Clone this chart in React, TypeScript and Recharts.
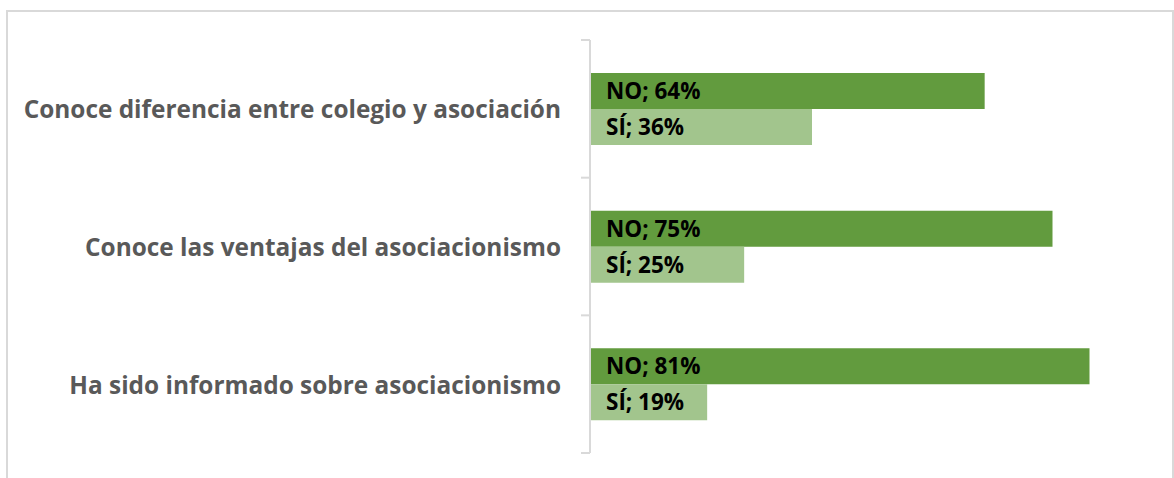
import { Bar, BarChart, LabelList, XAxis, YAxis } from "recharts";

const categories = [
  "Conoce diferencia entre colegio y asociación",
  "Conoce las ventajas del asociacionismo",
  "Ha sido informado sobre asociacionismo",
];
const noValues = [64, 75, 81];
const siValues = [36, 25, 19];

const data = categories.map((name, i) => ({ name, no: noValues[i], si: siValues[i] }));

const AXIS_GREY = "#d9d9d9";
const FONT = "'Open Sans', Lato, sans-serif";

function CategoryTick(props: any) {
  const { x, y, payload, index, visibleTicksCount } = props;
  const half = payload?.offset ?? 0;
  const lineX1 = x + 20;
  const lineX2 = x + 29;
  return (
    <g>
      <text
        x={x}
        y={y}
        textAnchor="end"
        dominantBaseline="central"
        fill="#595959"
        fontFamily={FONT}
        fontWeight={700}
        fontSize={24.4}
      >
        {payload.value}
      </text>
      <line x1={lineX1} x2={lineX2} y1={y - half} y2={y - half} stroke={AXIS_GREY} strokeWidth={2} />
      {index === visibleTicksCount - 1 && (
        <line x1={lineX1} x2={lineX2} y1={y + half} y2={y + half} stroke={AXIS_GREY} strokeWidth={2} />
      )}
    </g>
  );
}

const labelStyle = {
  fill: "#000",
  fontFamily: FONT,
  fontWeight: 700,
  fontSize: 22.5,
};

export default function App() {
  return (
    <div style={{ position: "relative", width: 1174, height: 478, overflow: "hidden" }}>
      <style>{"body{margin:0;overflow:hidden}"}</style>
      <div
        style={{
          position: "absolute",
          left: 6,
          top: 10,
          width: 1168,
          height: 520,
          boxSizing: "border-box",
          border: `2px solid ${AXIS_GREY}`,
        }}
      />
      <div style={{ position: "absolute", left: 8, top: 8 }}>
        <BarChart
          width={1166}
          height={470}
          data={data}
          layout="vertical"
          margin={{ top: 32, right: 29, bottom: 25, left: 0 }}
          barCategoryGap="24%"
          barGap={0}
        >
          <XAxis type="number" domain={[0, 90]} hide />
          <YAxis
            type="category"
            dataKey="name"
            width={582}
            axisLine={{ stroke: AXIS_GREY, strokeWidth: 2 }}
            tickLine={false}
            tickSize={0}
            tickMargin={29}
            tick={<CategoryTick />}
            interval={0}
          />
          <Bar dataKey="no" fill="#629b3e" isAnimationActive={false}>
            <LabelList
              dataKey="no"
              position="insideLeft"
              offset={16}
              formatter={(v: any) => `NO; ${v}%`}
              {...labelStyle}
            />
          </Bar>
          <Bar dataKey="si" fill="#a2c58d" isAnimationActive={false}>
            <LabelList
              dataKey="si"
              position="insideLeft"
              offset={16}
              formatter={(v: any) => `SÍ; ${v}%`}
              {...labelStyle}
            />
          </Bar>
        </BarChart>
      </div>
    </div>
  );
}
